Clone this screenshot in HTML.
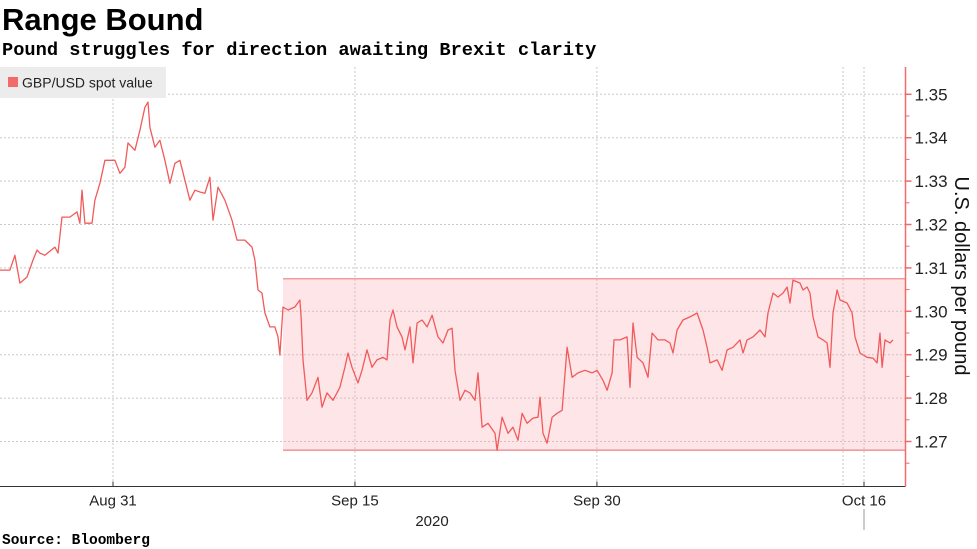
<!DOCTYPE html>
<html><head><meta charset="utf-8"><style>
body{margin:0;background:#fff;width:977px;height:549px;overflow:hidden;font-family:"Liberation Sans",sans-serif;}
svg{display:block}
</style></head><body>
<svg width="977" height="549" id="c">
<text x="2" y="30" font-size="31" font-weight="bold" fill="#000">Range Bound</text>
<text x="2" y="55" font-size="18.7" font-weight="bold" font-family="Liberation Mono, monospace" fill="#000">Pound struggles for direction awaiting Brexit clarity</text>
<text x="2" y="544" font-size="14.5" font-weight="bold" font-family="Liberation Mono, monospace" fill="#000">Source: Bloomberg</text>
<g id="grid"></g>
<g id="band"></g>
<g id="series"></g>
<g id="axes"></g>
<g>
<rect x="0" y="67" width="166" height="31" fill="#ececec"/>
<rect x="8" y="77" width="10" height="10" fill="#f26a6a"/>
<text x="22" y="87.5" font-size="14" fill="#222">GBP/USD spot value</text>
</g>
<text transform="translate(955,276) rotate(90)" text-anchor="middle" font-size="20" fill="#111">U.S. dollars per pound</text>
<text x="432" y="526" text-anchor="middle" font-size="15" fill="#222">2020</text>
</svg>
<script>
const days=[-7.01,-6.39,-6.08,-5.77,-5.33,-4.96,-4.71,-4.53,-4.22,-3.60,-3.41,-3.16,-2.67,-2.23,-2.05,-1.92,-1.74,-1.30,-1.12,-0.81,-0.50,0.12,0.43,0.74,0.93,1.36,1.67,1.98,2.17,2.29,2.60,2.91,3.22,3.53,3.84,4.15,4.46,4.77,5.08,5.39,5.70,6.01,6.20,6.51,6.94,7.38,7.69,8.18,8.62,8.80,8.99,9.24,9.42,9.73,10.04,10.23,10.35,10.54,10.85,11.28,11.59,11.66,11.78,12.03,12.34,12.71,12.96,13.27,13.64,14.07,14.38,14.57,14.82,15.19,15.44,15.75,16.06,16.37,16.74,16.99,17.17,17.36,17.61,17.92,18.10,18.41,18.60,18.85,19.16,19.47,19.78,20.15,20.46,20.77,21.02,21.20,21.51,21.82,22.13,22.44,22.63,22.88,23.25,23.68,23.81,24.12,24.49,24.80,25.11,25.36,25.67,26.04,26.35,26.47,26.66,26.91,27.22,27.53,27.84,28.15,28.46,28.83,29.26,29.70,30.01,30.38,30.63,30.94,31.06,31.43,31.87,32.05,32.24,32.49,32.86,33.17,33.42,33.79,34.22,34.53,34.72,34.97,35.34,35.77,36.21,36.58,36.83,37.01,37.45,37.76,38.07,38.44,38.87,39.06,39.31,39.68,40.11,40.42,40.61,40.92,41.23,41.54,41.79,41.97,42.16,42.59,42.78,43.03,43.21,43.40,43.71,44.02,44.27,44.45,44.64,44.89,45.07,45.51,45.82,46.00,46.31,46.75,47.12,47.37,47.55,47.68,47.86,48.17,48.36];
const prices=[1.3095,1.3095,1.3129,1.3065,1.3079,1.3118,1.3141,1.3134,1.3129,1.3148,1.3134,1.3217,1.3217,1.3229,1.3203,1.3279,1.3203,1.3203,1.3256,1.3295,1.3348,1.3348,1.3318,1.3332,1.3388,1.3371,1.3417,1.3470,1.3482,1.3424,1.3378,1.3394,1.3348,1.3295,1.3341,1.3348,1.3302,1.3256,1.3279,1.3275,1.3272,1.3309,1.3210,1.3286,1.3256,1.3210,1.3164,1.3164,1.3148,1.3118,1.3049,1.3042,1.2996,1.2964,1.2964,1.2941,1.2899,1.3010,1.3003,1.3010,1.3026,1.2987,1.2888,1.2795,1.2812,1.2848,1.2779,1.2812,1.2795,1.2825,1.2871,1.2904,1.2871,1.2835,1.2864,1.2911,1.2871,1.2888,1.2894,1.2888,1.2980,1.3003,1.2964,1.2941,1.2911,1.2964,1.2881,1.2973,1.2980,1.2964,1.2991,1.2941,1.2927,1.2957,1.2961,1.2864,1.2795,1.2818,1.2812,1.2795,1.2858,1.2733,1.2742,1.2719,1.2680,1.2756,1.2719,1.2733,1.2703,1.2765,1.2742,1.2754,1.2756,1.2802,1.2719,1.2696,1.2756,1.2765,1.2772,1.2917,1.2848,1.2858,1.2864,1.2858,1.2864,1.2841,1.2818,1.2858,1.2934,1.2934,1.2941,1.2825,1.2973,1.2894,1.2881,1.2848,1.2950,1.2934,1.2934,1.2927,1.2904,1.2957,1.2980,1.2987,1.2996,1.2957,1.2917,1.2881,1.2888,1.2864,1.2911,1.2917,1.2934,1.2904,1.2934,1.2941,1.2957,1.2941,1.2996,1.3042,1.3033,1.3042,1.3056,1.3019,1.3072,1.3065,1.3049,1.3056,1.3042,1.2987,1.2941,1.2934,1.2927,1.2871,1.2996,1.3049,1.3026,1.3019,1.2996,1.2941,1.2904,1.2894,1.2892,1.2881,1.2950,1.2871,1.2934,1.2927,1.2934];
const yTicks=[1.27,1.28,1.29,1.30,1.31,1.32,1.33,1.34,1.35];
const yTickLabels=["1.27","1.28","1.29","1.30","1.31","1.32","1.33","1.34","1.35"];
const xTickDays=[0,15,30,46.56];
const xTickLabels=["Aug 31","Sep 15","Sep 30","Oct 16"];
const xGridDays=[0,15,30,45.26,46.56];
const bandStartDay=[10.54];
const bandRange=[1.268,1.3075];

const NS="http://www.w3.org/2000/svg";
const X0=113,DX=16.13,AXR=905.5,TOP=67,BOT=486.5;
function xs(d){return X0+d*DX;}
function ys(v){return 94.3+(1.35-v)*4340;}
function mk(tag,attrs,parent){const e=document.createElementNS(NS,tag);for(const k in attrs)e.setAttribute(k,attrs[k]);parent.appendChild(e);return e;}
const grid=document.getElementById('grid'),axes=document.getElementById('axes'),band=document.getElementById('band'),series=document.getElementById('series');
yTicks.forEach((v,i)=>{
 const l=mk('line',{x1:0,x2:AXR,y1:ys(v),y2:ys(v),stroke:'#c8c8c8','stroke-dasharray':'2,2','stroke-width':1},grid);
 
 
 const t=mk('line',{x1:AXR,x2:AXR+6,y1:ys(v),y2:ys(v),stroke:'#f26a6a','stroke-width':1.5},axes);
 
 
 const tx=mk('text',{x:AXR+9,y:ys(v)+6,'font-size':17,fill:'#222'},axes);
 tx.textContent=yTickLabels[i];
 
 
 const mv=v-0.005;
 const m=mk('line',{x1:AXR,x2:AXR+4,y1:ys(mv),y2:ys(mv),stroke:'#f26a6a','stroke-width':1},axes);
 
 
});
xGridDays.forEach(d=>{
 const l=mk('line',{x1:xs(d),x2:xs(d),y1:TOP,y2:BOT,stroke:'#c8c8c8','stroke-dasharray':'2,2','stroke-width':1},grid);
 
 
});
const bx=xs(bandStartDay[0]);
const br=mk('rect',{x:bx,y:ys(bandRange[1]),width:AXR-bx,height:ys(bandRange[0])-ys(bandRange[1]),fill:'rgba(250,160,170,0.28)'},band);


bandRange.forEach(v=>{const l=mk('line',{x1:bx,x2:AXR,y1:ys(v),y2:ys(v),stroke:'#f08a90','stroke-width':1.3},band);
 
 });
let d='';days.forEach((t,i)=>{d+=(i?'L':'M')+xs(t).toFixed(1)+','+ys(prices[i]).toFixed(1);});
const p=mk('path',{d:d,fill:'none',stroke:'#f25a5a','stroke-width':1.3,'stroke-linejoin':'round'},series);


const ax=mk('line',{x1:0,x2:AXR,y1:BOT,y2:BOT,stroke:'#333','stroke-width':1},axes);


const ay=mk('line',{x1:AXR,x2:AXR,y1:TOP,y2:BOT,stroke:'#f26a6a','stroke-width':1.5},axes);


xTickDays.forEach((t,i)=>{
 const tk=mk('line',{x1:xs(t),x2:xs(t),y1:BOT-5,y2:BOT,stroke:'#333','stroke-width':1},axes);
 
 
 const tx=mk('text',{x:xs(t),y:BOT+19,'text-anchor':'middle','font-size':15,fill:'#222'},axes);
 tx.textContent=xTickLabels[i];
 
 
});
const yl=mk('line',{x1:xs(xTickDays[3]),x2:xs(xTickDays[3]),y1:509,y2:530,stroke:'#999','stroke-width':1},axes);


</script>
</body></html>
